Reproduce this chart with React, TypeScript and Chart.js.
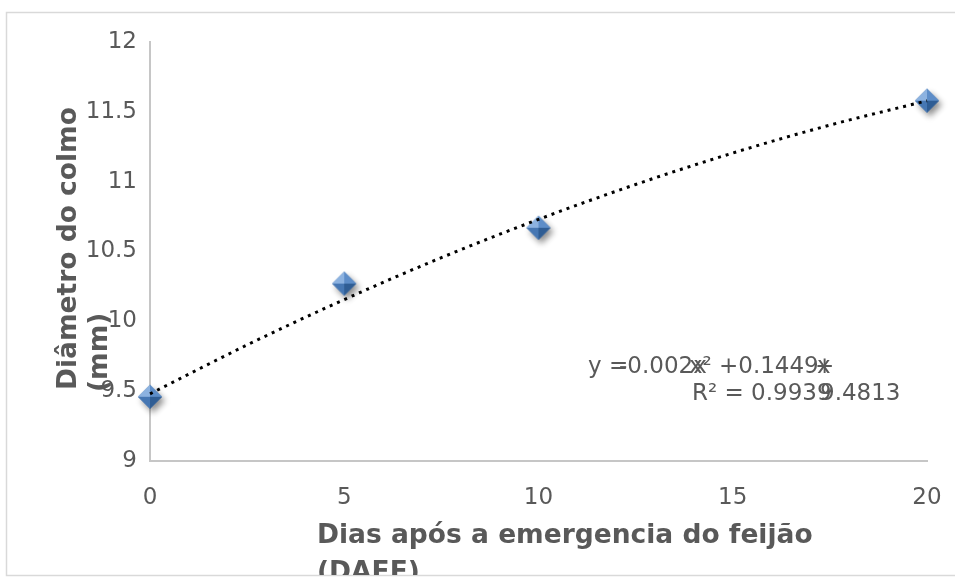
import React, { useEffect, useRef } from "react";
import { Chart, registerables } from "chart.js";

Chart.register(...registerables);

const daysX = [0, 5, 10, 20];
const diameterY = [9.46, 10.27, 10.67, 11.58];
const trendX = [0, 2.5, 5, 7.5, 10, 12.5, 15, 17.5, 20];
const trendY = [9.481, 9.831, 10.156, 10.456, 10.73, 10.98, 11.205, 11.405, 11.579];
const xTitleLines = ["Dias após a emergencia do feijão", "(DAEF)"];
const yTitleLines = ["Diâmetro do colmo", "(mm)"];
const eqPieces = [
  { t: "y =", dx: 0, line: 0 },
  { t: "-0.002x", dx: 31, line: 0 },
  { t: "x²", dx: 101, line: 0 },
  { t: "+0.1449", dx: 131, line: 0 },
  { t: "x", dx: 229, line: 0 },
  { t: "+", dx: 227, line: 0 },
  { t: "R² = 0.9939", dx: 104, line: 1 },
  { t: "9.4813", dx: 232, line: 1 },
];

const GRAY = "#595959";

function makeDiamond(): HTMLCanvasElement {
  const c = document.createElement("canvas");
  c.width = 44;
  c.height = 44;
  const g = c.getContext("2d")!;
  const cx = 22, cy = 22, r = 12;
  g.save();
  g.shadowColor = "rgba(0,0,0,0.45)";
  g.shadowBlur = 6;
  g.shadowOffsetX = 3;
  g.shadowOffsetY = 4;
  g.beginPath();
  g.moveTo(cx, cy - r);
  g.lineTo(cx + r, cy);
  g.lineTo(cx, cy + r);
  g.lineTo(cx - r, cy);
  g.closePath();
  g.fillStyle = "#4a7ab5";
  g.fill();
  g.restore();
  const face = (ax: number, ay: number, bx: number, by: number, col: string) => {
    g.beginPath();
    g.moveTo(cx, cy);
    g.lineTo(ax, ay);
    g.lineTo(bx, by);
    g.closePath();
    g.fillStyle = col;
    g.fill();
  };
  face(cx, cy - r, cx - r, cy, "#8cb2e0");
  face(cx, cy - r, cx + r, cy, "#5d8dc8");
  face(cx + r, cy, cx, cy + r, "#2f5d94");
  face(cx - r, cy, cx, cy + r, "#4677b3");
  return c;
}

export default function App() {
  const ref = useRef<HTMLCanvasElement>(null);
  useEffect(() => {
    document.body.style.margin = "0";
    const diamond = makeDiamond();
    const decor = {
      id: "decor",
      beforeDraw(chart: any) {
        const ctx = chart.ctx;
        ctx.save();
        ctx.fillStyle = "#ffffff";
        ctx.fillRect(0, 0, chart.width, chart.height);
        ctx.strokeStyle = "#d9d9d9";
        ctx.lineWidth = 1.5;
        ctx.strokeRect(6.5, 12.5, chart.width + 10, 563);
        ctx.restore();
      },
      afterDraw(chart: any) {
        const ctx = chart.ctx;
        ctx.save();
        ctx.beginPath();
        ctx.rect(0, 0, chart.width, 575);
        ctx.clip();
        ctx.fillStyle = GRAY;
        ctx.font = "bold 26.5px 'DejaVu Sans'";
        ctx.textBaseline = "alphabetic";
        ctx.textAlign = "left";
        ctx.fillText(xTitleLines[0], 317, 543);
        ctx.fillText(xTitleLines[1], 317, 580);
        ctx.save();
        ctx.translate(76, 390);
        ctx.rotate(-Math.PI / 2);
        ctx.fillText(yTitleLines[0], 0, 0);
        ctx.restore();
        ctx.save();
        ctx.translate(107, 392);
        ctx.rotate(-Math.PI / 2);
        ctx.fillText(yTitleLines[1], 0, 0);
        ctx.restore();
        ctx.font = "23px 'DejaVu Sans'";
        for (const p of eqPieces) {
          ctx.fillText(p.t, 588 + p.dx, 373 + p.line * 26.5);
        }
        ctx.restore();
      },
    };
    const tickFont = { family: "'DejaVu Sans'", size: 23 };
    const chart = new Chart(ref.current!, {
      type: "scatter",
      data: {
        datasets: [
          {
            type: "line",
            data: trendX.map((x, i) => ({ x, y: trendY[i] })),
            borderColor: "#000000",
            borderWidth: 3,
            borderDash: [3, 5],
            borderCapStyle: "butt",
            pointRadius: 0,
            fill: false,
            cubicInterpolationMode: "monotone",
            clip: false,
          } as any,
          {
            data: daysX.map((x, i) => ({ x, y: diameterY[i] })),
            pointStyle: diamond as any,
            pointRadius: 12,
            clip: false,
          } as any,
        ],
      },
      plugins: [decor],
      options: {
        animation: false,
        responsive: false,
        devicePixelRatio: 1,
        layout: { padding: { top: 42, right: 28, left: 0, bottom: 0 } },
        plugins: { legend: { display: false }, tooltip: { enabled: false } },
        scales: {
          x: {
            type: "linear",
            min: 0,
            max: 20,
            ticks: { stepSize: 5, color: GRAY, font: tickFont, padding: 23, callback: (v: any) => String(v) },
            grid: { display: false, drawTicks: false },
            border: { display: true, color: "#c6c6c6", width: 2 },
            afterFit: (s: any) => { s.height = 116; s.paddingRight = 0; s.paddingLeft = 0; },
          },
          y: {
            min: 9,
            max: 12,
            ticks: { stepSize: 0.5, color: GRAY, font: tickFont, padding: 13, callback: (v: any) => String(v) },
            grid: { display: false, drawTicks: false },
            border: { display: true, color: "#c6c6c6", width: 2 },
            afterFit: (s: any) => { s.width = 150; s.paddingTop = 0; s.paddingBottom = 0; },
          },
        },
      },
    });
    return () => chart.destroy();
  }, []);
  return (
    <div style={{ position: "absolute", left: 0, top: 0, width: 955, height: 577 }}>
      <canvas ref={ref} width={955} height={577} style={{ width: 955, height: 577 }} />
    </div>
  );
}
